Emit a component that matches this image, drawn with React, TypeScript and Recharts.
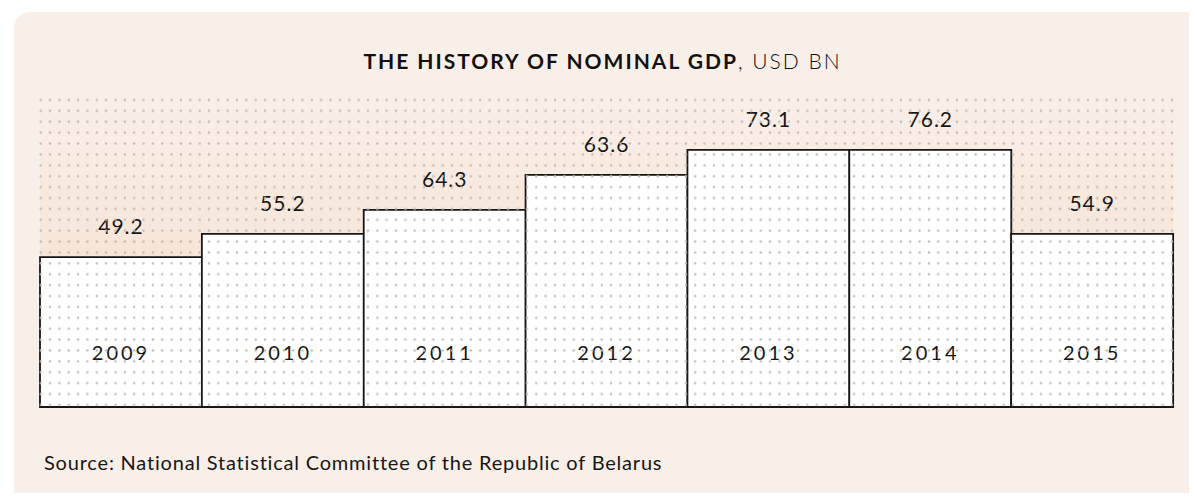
import { Bar, BarChart, LabelList, XAxis, YAxis } from "recharts";

const years = ["2009", "2010", "2011", "2012", "2013", "2014", "2015"];
const gdpUsdBn = [49.2, 55.2, 64.3, 63.6, 73.1, 76.2, 54.9];
// bar heights as drawn in the original (not strictly proportional to the values)
const barLevels = [48.5, 56.0, 63.8, 75.1, 83.2, 83.2, 56.0];

const data = years.map((year, i) => ({
  year,
  value: gdpUsdBn[i],
  level: barLevels[i],
}));

const FONT = "Lato, 'Noto Sans', sans-serif";
const INK = "#161616";

const ValueLabel = (props: any) => {
  const { x, y, width, value } = props;
  return (
    <text
      x={x + width / 2}
      y={y - 28}
      textAnchor="middle"
      dominantBaseline="middle"
      fontFamily={FONT}
      fontSize={21}
      letterSpacing={1}
      fill={INK}
    >
      {String(value)}
    </text>
  );
};

const YearLabel = (props: any) => {
  const { x, y, width, height, value } = props;
  return (
    <text
      x={x + width / 2}
      y={y + height - 52}
      textAnchor="middle"
      dominantBaseline="middle"
      fontFamily={FONT}
      fontSize={20}
      letterSpacing={3}
      fill={INK}
    >
      {value}
    </text>
  );
};

const App = () => {
  return (
    <div style={{ position: "relative", width: 1181, height: 485 }}>
      <div
        style={{
          position: "absolute",
          left: 6,
          top: 4,
          width: 1183,
          height: 489,
          background: "#f9efe9",
          borderTopLeftRadius: 16,
        }}
      />
      <div
        style={{
          position: "absolute",
          left: 32,
          top: 92,
          width: 1133,
          height: 170,
          background:
            "linear-gradient(to bottom, rgba(246,224,207,0) 0%, rgba(246,224,207,0.5) 70%, rgba(246,224,207,0.75) 100%)",
        }}
      />
      <div
        style={{
          position: "absolute",
          left: -8,
          top: 40,
          width: 1197,
          textAlign: "center",
          fontFamily: FONT,
          fontSize: 21,
          letterSpacing: 2,
          color: "#111",
          whiteSpace: "nowrap",
          paddingLeft: 4,
        }}
      >
        <span style={{ fontWeight: 700 }}>THE HISTORY OF NOMINAL GDP</span>
        <span style={{ fontWeight: 300 }}>, USD BN</span>
      </div>
      <div style={{ position: "absolute", left: -8, top: -8 }}>
        <BarChart
          width={1197}
          height={501}
          data={data}
          margin={{ top: 98, right: 24, bottom: 94, left: 40 }}
          barCategoryGap={0}
          barGap={0}
        >
          <XAxis dataKey="year" hide />
          <YAxis hide domain={[0, 100]} />
          <Bar
            dataKey="level"
            fill="#ffffff"
            stroke={INK}
            strokeWidth={1.8}
            isAnimationActive={false}
          >
            <LabelList dataKey="value" content={ValueLabel} />
            <LabelList dataKey="year" content={YearLabel} />
          </Bar>
        </BarChart>
      </div>
      <svg
        width={1197}
        height={501}
        style={{ position: "absolute", left: -8, top: -8, pointerEvents: "none" }}
      >
        <defs>
          <pattern
            id="dots"
            patternUnits="userSpaceOnUse"
            x={36.02}
            y={94.55}
            width={9.35}
            height={10.89}
          >
            <circle cx={4.675} cy={5.445} r={1.2} fill="#c2bab3" />
          </pattern>
        </defs>
        <rect x={36} y={94.5} width={1141} height={312} fill="url(#dots)" />
      </svg>
      <div
        style={{
          position: "absolute",
          left: 36,
          top: 442,
          fontFamily: FONT,
          fontSize: 20,
          lineHeight: "24px",
          letterSpacing: 0.8,
          color: INK,
          whiteSpace: "nowrap",
        }}
      >
        Source: National Statistical Committee of the Republic of Belarus
      </div>
    </div>
  );
};

export default App;
